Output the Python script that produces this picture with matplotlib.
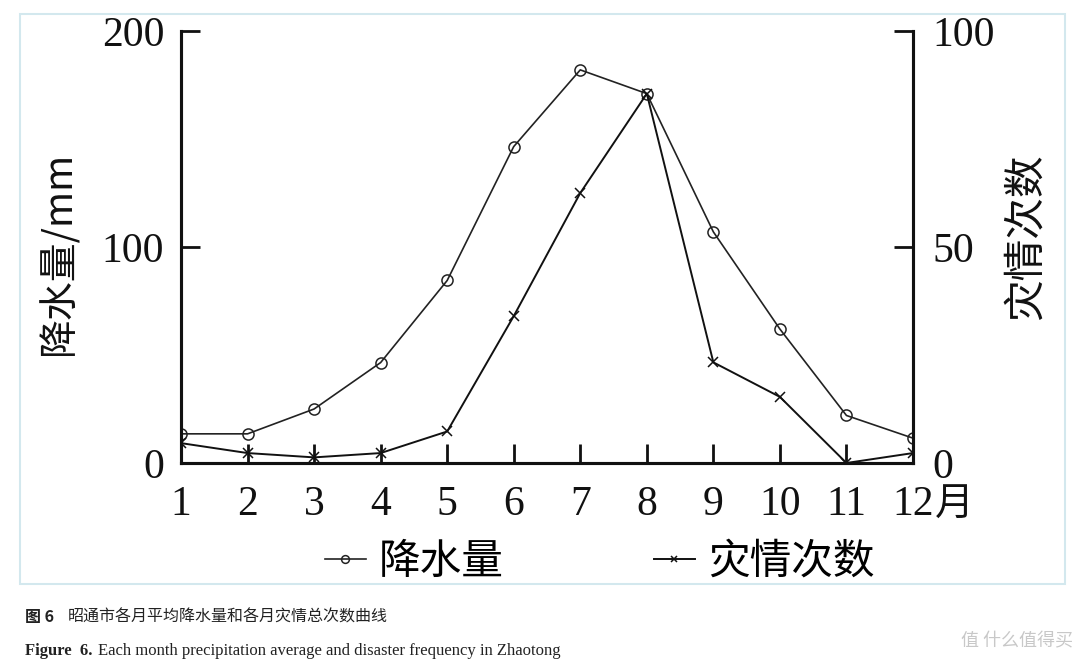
import numpy as np
import matplotlib.pyplot as plt
from matplotlib.patches import Rectangle

plt.rcParams['font.family'] = ['Liberation Serif', 'Noto Sans CJK SC', 'DejaVu Sans']

# Data
months = [1, 2, 3, 4, 5, 6, 7, 8, 9, 10, 11, 12]
month_labels = ['1', '2', '3', '4', '5', '6', '7', '8', '9', '10', '11', '12']
rain = [13.5, 13.5, 25, 46.5, 84.5, 146.5, 182, 171, 107, 62, 22, 11.5]
disasters = [4.6, 2.3, 1.3, 2.3, 7.3, 34, 62.5, 85.5, 23.3, 15.3, 0, 2.3]

cjk = ['Noto Sans CJK SC', 'DejaVu Sans']

fig = plt.figure(figsize=(10.8, 6.67), dpi=100)
fig.patches.append(Rectangle((20/1080, 1-584/667), 1045/1080, 570/667,
                             transform=fig.transFigure, fill=False,
                             edgecolor='#d3e8ee', linewidth=1.5))

ax = fig.add_axes([181/1080, 1-463/667, 732/1080, 432/667])
ax2 = ax.twinx()

l1, = ax.plot(months, rain, color='#222222', lw=1.2, marker='o', ms=8,
              mfc='none', mec='#222222', mew=1.1)
l2, = ax2.plot(months, disasters, color='#111111', lw=1.4, marker='x', ms=7,
               mew=1.1)

ax.set_xlim(1, 12)
ax.set_ylim(0, 200)
ax2.set_ylim(0, 100)
ax.set_xticks(months)
ax.set_xticklabels(month_labels)
ax.set_yticks([0, 100, 200])
ax2.set_yticks([0, 50, 100])

for a in (ax, ax2):
    a.spines['top'].set_visible(False)
    for s in ('left', 'right', 'bottom'):
        a.spines[s].set_linewidth(2.2)
        a.spines[s].set_color('#111111')
    a.tick_params(direction='in', length=14, width=2, labelsize=30,
                  colors='#111111')
ax.tick_params(axis='x', pad=16)
ax.tick_params(axis='y', pad=12)
ax2.tick_params(axis='y', pad=14)

ax.text(12.33, -0.05, '月', transform=ax.get_xaxis_transform(), fontsize=28,
        family=cjk, ha='left', va='top', color='#111111')

ax.set_ylabel('降水量/mm', fontsize=28, family=['Noto Sans CJK SC', 'Liberation Serif'],
              color='#111111')
ax.yaxis.set_label_coords(-0.138, 0.486)
ax2.set_ylabel('灾情次数', fontsize=30, family=cjk, rotation=90,
               color='#111111')
ax2.yaxis.set_label_coords(1.126, 0.523)

leg = fig.legend([l1, l2], ['降水量', '灾情次数'], loc='center',
                 bbox_to_anchor=(0.555, 1-562/667), ncol=2, frameon=False,
                 prop={'family': cjk, 'size': 30}, handlelength=1.0,
                 handletextpad=0.3, columnspacing=3.6, markerscale=0.7)

fig.text(25/1080, 1-617/667, '图 6', fontsize=11.5, family=cjk,
         weight='bold', va='center', color='#222222')
fig.text(68/1080, 1-617/667, '昭通市各月平均降水量和各月灾情总次数曲线',
         fontsize=11.5, family=cjk, va='center', color='#222222')
fig.text(25/1080, 1-651/667, 'Figure  6.', fontsize=12, family='Liberation Serif',
         weight='bold', va='center', color='#222222')
fig.text(98/1080, 1-651/667,
         'Each month precipitation average and disaster frequency in Zhaotong',
         fontsize=12, family='Liberation Serif', va='center', color='#222222')
fig.text(1073/1080, 1-641/667, '值 什么值得买', fontsize=13, family=cjk,
         ha='right', va='center', color='#c8c8c8')

fig.savefig('out.png', dpi=100)
